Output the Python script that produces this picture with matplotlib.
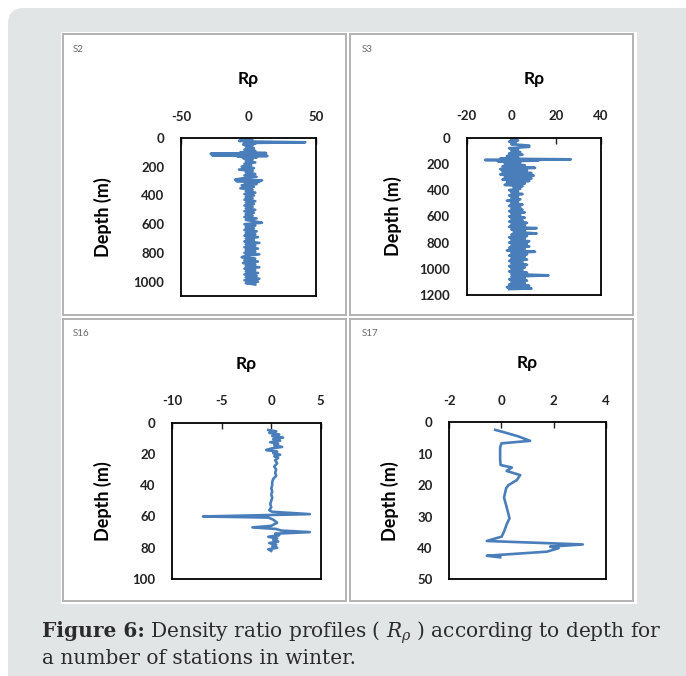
import matplotlib
matplotlib.use("Agg")
import matplotlib.pyplot as plt
from matplotlib.patches import FancyBboxPatch, Rectangle
from matplotlib.transforms import IdentityTransform

plt.rcParams["axes.unicode_minus"] = False

# ---------------- data ----------------
s2_depth = [10, 15, 20, 25, 30, 35, 40, 45, 50, 60, 70, 80, 90, 100, 105, 110, 115, 120, 125, 130,
            135, 140, 150, 160, 170, 180, 190, 200, 210, 220, 230, 240, 250, 260, 270, 280, 290, 295,
            300, 305, 310, 320, 330, 340, 350, 360, 370, 380, 390, 400, 410, 420, 430, 440, 450, 460,
            470, 480, 490, 500, 510, 520, 530, 540, 550, 560, 570, 580, 590, 600, 610, 620, 630, 640,
            650, 660, 670, 680, 690, 700, 710, 720, 730, 740, 750, 760, 770, 780, 790, 800, 810, 820,
            830, 840, 850, 860, 870, 880, 890, 900, 910, 920, 930, 940, 950, 960, 970, 980, 990, 1000,
            1010, 1020]
s2_rrho = [-5, 3, -7, 4, 42, -3, 5, -4, 3, -2, 4, -3, 5, -6, 13, -28, 10, -27, 14, -8,
           6, -4, 3, -2, 5, -3, 2, -5, 4, -7, 3, -2, 5, -3, 6, -4, -10, 10,
           -9, 8, -3, 6, -5, 4, -6, 3, -2, 5, -3, 4, -2, 3, -3, 5, -2, 4,
           -3, 3, -2, 5, -3, 4, -2, 3, -3, 6, -2, 4, 10, -3, 5, -2, 4, -3,
           6, -2, 5, -3, 7, -2, 4, -3, 8, -2, 5, -3, 7, -2, 5, -3, 8, -2,
           -5, 5, -3, 7, -4, 5, -2, 8, -3, 5, -2, 7, -3, 6, -2, 8, -3, 7,
           -2, 5]

s3_depth = [10, 20, 30, 40, 50, 60, 70, 80, 90, 100, 110, 120, 130, 140, 150, 160, 165, 170, 175,
            180, 190, 200, 210, 220, 230, 240, 250, 260, 270, 280, 290, 300, 310, 320, 330, 340, 350,
            360, 370, 380, 390, 400, 410, 420, 430, 440, 450, 460, 470, 480, 490, 500, 510, 520, 530,
            540, 550, 560, 570, 580, 590, 600, 610, 620, 630, 640, 650, 660, 670, 680, 690, 700, 710,
            720, 730, 740, 750, 760, 770, 780, 790, 800, 810, 820, 830, 840, 850, 860, 870, 880, 890,
            900, 910, 920, 930, 940, 950, 960, 970, 980, 990, 1000, 1010, 1020, 1030, 1040, 1050, 1060,
            1070, 1080, 1090, 1100, 1110, 1120, 1130, 1140, 1150, 1155]
s3_rrho = [0, 3, -1, 2, 0, 8, 8, -1, 3, 0, 4, -1, 5, -2, 3, -5, 26.6, -11.8, 12,
           -6, 4, -3, 6, -4, 10.6, -5, 7, -4, 9, -5, 10, -3, 9, -4, 8, -2, 6,
           -3, 5, 1, 4, -1, 3, 0, 5, -1, 3, 0, 4, -2, 3, 0, 5, -1, 4,
           0, 5, -1, 6, 0, 4, -1, 6, 0, 5, -1, 7, 0, 6, -1, 11.3, 0, 6,
           1, 11.3, 0, 7, -1, 6, 0, 8, -1, 7, 0, 8, -1, 6, -2, 10.6, 0, 7,
           -1, 6, 0, 7, -1, 5, 0, 7, -1, 6, 0, 5, -1, 7, 0, 16.6, 0,
           6, -1, 7, 0, 6, -1, 8, -2, 9, -1]

s16_depth = [4.7, 5.5, 6.5, 7.5, 8.5, 9.5, 10.5, 11.5, 12.5, 13.5, 14.5, 15.5, 16.5, 17.5, 18.5,
             19.5, 20.5, 21.5, 22.5, 24, 26, 28, 30, 32, 34, 36, 38, 40, 42, 44, 46, 48, 50, 52,
             54, 56, 57, 58.5, 59, 60, 60.7, 62, 64, 65, 66, 67, 68, 69, 70, 71, 72, 73, 74, 75,
             76, 77, 78, 79, 80, 81, 82]
s16_rrho = [-0.3, 0.5, -0.2, 0.8, 0.1, 1.2, 0.2, 0.9, -0.1, 0.7, 0.3, 1.1, 0.0, -0.5, 0.6,
            0.2, 0.9, 0.3, 0.7, 0.4, 0.6, 0.3, 0.5, 0.4, 0.5, 0.2, 0.1, 0.1, 0.0, 0.1, 0.0, 0.1, 0.0, -0.1,
            0.0, -0.2, 0.1, 3.9, 0.3, -6.9, -0.3, 0.2, 0.6, 0.3, 0.0, -1.9, 0.5, 1.0, 3.9, 0.4, 0.8, -0.3, 0.6, 0.2,
            0.7, -0.2, 0.5, 0.1, 0.6, -0.3, 0.0]

s17_depth = [2.4, 3.4, 4.5, 5.9, 6.7, 8, 10, 12, 13.6, 14.4, 15.5, 16.8, 18.4, 20, 21, 24, 27,
             30.6, 32.5, 34.8, 36.4, 37.8, 38.9, 39.6, 40.1, 41.2, 42.5, 43]
s17_rrho = [-0.24, 0.2, 0.65, 1.1, 0.0, -0.05, -0.05, -0.05, -0.03, 0.4, 0.2, 0.72, 0.59, 0.27,
            0.18, 0.1, 0.2, 0.31, 0.2, 0.1, 0.01, -0.56, 3.12, 1.87, 2.19, 1.74, -0.56, -0.05]

stations = ["S2", "S3", "S16", "S17"]
x_limits = [(-50, 50), (-20, 40), (-10, 5), (-2, 4)]
x_ticks = [[-50, 0, 50], [-20, 0, 20, 40], [-10, -5, 0, 5], [-2, 0, 2, 4]]
y_limits = [(1100, 0), (1200, 0), (100, 0), (50, 0)]
y_ticks = [[0, 200, 400, 600, 800, 1000], [0, 200, 400, 600, 800, 1000, 1200],
           [0, 20, 40, 60, 80, 100], [0, 10, 20, 30, 40, 50]]
profiles = [(s2_depth, s2_rrho), (s3_depth, s3_rrho), (s16_depth, s16_rrho), (s17_depth, s17_rrho)]

# ---------------- layout (pixels, top-left origin) ----------------
W, H = 686, 676
fig = plt.figure(figsize=(W / 100, H / 100), dpi=100)
fig.patch.set_facecolor("white")

bg = FancyBboxPatch((8, -30), 720, 698, boxstyle="round,pad=0,rounding_size=16",
                    transform=IdentityTransform(), facecolor="#e2e5e6", edgecolor="none", zorder=-20)
fig.patches.append(bg)
white = Rectangle((61, H - 604), 576, 572, transform=IdentityTransform(),
                  facecolor="white", edgecolor="none", zorder=-15)
fig.patches.append(white)
panel_boxes = [(63, 34, 346, 315), (350, 34, 633, 315), (63, 319, 346, 601), (350, 319, 633, 601)]
for (x0, y0, x1, y1) in panel_boxes:
    fig.patches.append(Rectangle((x0, H - y1), x1 - x0, y1 - y0, transform=IdentityTransform(),
                                 facecolor="none", edgecolor="#b2b2b2", lw=1.4, zorder=-10))

axes_px = [(181, 138, 316, 296), (466.7, 137.7, 600.7, 295), (172.3, 422.7, 320.7, 579),
           (449.3, 422.3, 605.7, 579.3)]
ylabel_off = [78, 74, 69, 59]
label_pos = [(73, 50), (362, 50), (73, 334), (362, 334)]

FONT = "Lato"
blue = "#4a7ebb"

for i in range(4):
    x0, y0, x1, y1 = axes_px[i]
    ax = fig.add_axes([x0 / W, 1 - y1 / H, (x1 - x0) / W, (y1 - y0) / H])
    d, r = profiles[i]
    ax.plot(r, d, color=blue, lw=1.9, solid_joinstyle="round")
    ax.set_xlim(*x_limits[i])
    ax.set_ylim(*y_limits[i])
    ax.set_xticks(x_ticks[i])
    ax.set_yticks(y_ticks[i])
    ax.xaxis.tick_top()
    ax.tick_params(axis="x", direction="in", length=4, width=1, pad=11, colors="#222222")
    ax.tick_params(axis="y", length=0, pad=12, colors="#222222")
    for lab in ax.get_xticklabels() + ax.get_yticklabels():
        lab.set_fontfamily(FONT)
        lab.set_fontweight("bold")
        lab.set_fontsize(9.5)
    for sp in ax.spines.values():
        sp.set_linewidth(1.3)
        sp.set_color("black")
    wpx = x1 - x0
    hpx = y1 - y0
    ax.text(0.5, 1 + 59 / hpx, "R\u03c1", transform=ax.transAxes, ha="center", va="center",
            fontfamily=FONT, fontweight="bold", fontsize=12.5, color="black")
    ax.text(-ylabel_off[i] / wpx, 0.5, "Depth (m)", transform=ax.transAxes, rotation=90,
            ha="center", va="center", fontfamily=FONT, fontweight="bold", fontsize=13, color="black")
    lx, ly = label_pos[i]
    fig.text(lx / W, 1 - ly / H, stations[i], ha="left", va="center", fontfamily=FONT,
             fontsize=7, color="#666666")

# ---------------- caption ----------------
plt.rcParams["mathtext.fontset"] = "custom"
plt.rcParams["mathtext.rm"] = "DejaVu Serif"
plt.rcParams["mathtext.it"] = "DejaVu Serif:italic"
plt.rcParams["mathtext.bf"] = "DejaVu Serif:bold"
CAP_FS = 14.5
CAP_COL = "#2b2b2b"
renderer = fig.canvas.get_renderer()
t_bold = fig.text(41.7 / W, 1 - 637.3 / H, "Figure 6:", ha="left", va="baseline",
                  fontfamily="DejaVu Serif", fontweight="bold", fontsize=CAP_FS, color=CAP_COL)
bb = t_bold.get_window_extent(renderer)
x_next = bb.x1 + 5
fig.text(x_next / W, 1 - 637.3 / H, r"Density ratio profiles ( $R_{\rho}$ ) according to depth for",
         ha="left", va="baseline", fontfamily="DejaVu Serif", fontsize=CAP_FS, color=CAP_COL)
fig.text(41.7 / W, 1 - 664.3 / H, "a number of stations in winter.", ha="left", va="baseline",
         fontfamily="DejaVu Serif", fontsize=CAP_FS, color=CAP_COL)

fig.savefig("out.png", dpi=100, facecolor="white")
